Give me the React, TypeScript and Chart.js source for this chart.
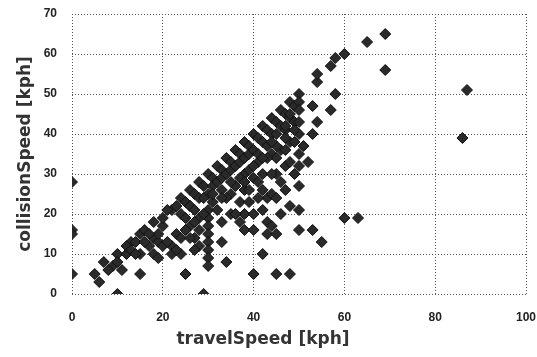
import React, { useEffect, useRef } from "react";
import { Chart, registerables } from "chart.js";

Chart.register(...registerables);

// travelSpeed [kph]
const travelSpeed: number[] = [
  0, 0, 0, 0,
  5, 6, 7, 9, 10, 10, 11, 12, 13, 15, 15, 15,
  17, 18, 18, 19, 19, 19, 20, 20, 22, 22, 23, 24, 24, 25, 26, 22,
  12, 14, 16, 17, 18, 20, 21, 23, 24, 25, 26, 27, 28, 29, 30, 31, 32, 33, 34, 35, 36, 37, 38, 39, 40, 41, 42, 43, 44, 45, 46, 47, 48, 49, 50, 50,
  24, 26, 27, 28, 30, 31, 32, 33, 34, 35, 36, 37, 38, 39, 40, 42, 43, 44, 46, 47, 48, 49, 50,
  54, 54, 57, 58, 60, 65, 69, 69, 87, 86, 58, 57, 53, 54, 53, 50, 50, 45, 48, 47,
  26, 27, 28, 28, 29, 30, 30, 30, 30, 30, 30, 30, 30, 31, 33, 33, 34, 35, 35, 37, 38, 38, 38, 40, 40, 40, 40,
  41, 42, 42, 43, 43, 43, 44, 44, 44, 45, 45, 45, 45, 46, 46, 47, 47, 48, 48, 48, 49, 50, 50, 50, 50, 51, 52, 53, 55, 60, 63,
  36, 38, 39, 41, 42, 42, 44, 45, 46, 47, 48, 49, 34, 32, 33, 36, 37, 39, 41,
  21, 23, 25, 26, 27, 28, 29, 25, 27,
  29, 31, 33, 35, 37, 39, 41, 43, 45, 47, 49, 50, 44, 42, 40, 38, 8, 10, 13, 14, 16,
];

// collisionSpeed [kph]
const collisionSpeed: number[] = [
  28, 16, 15, 5,
  5, 3, 8, 7, 0, 10, 6, 10, 13, 15, 10, 5,
  12, 14, 10, 9, 13, 15, 17, 12, 12, 10, 15, 10, 14, 5, 22, 21,
  12, 13, 16, 15, 18, 19, 21, 22, 24, 23, 26, 25, 28, 27, 30, 29, 32, 31, 34, 33, 36, 35, 38, 37, 40, 39, 42, 41, 44, 43, 46, 45, 48, 47, 50, 48,
  20, 22, 21, 24, 25, 27, 28, 29, 30, 31, 32, 33, 34, 35, 36, 38, 37, 40, 42, 41, 44, 43, 46,
  53, 55, 57, 59, 60, 63, 65, 56, 51, 39, 50, 46, 47, 43, 40, 35, 32, 40, 45, 42,
  17, 14, 19, 12, 0, 21, 19, 17, 15, 13, 11, 9, 7, 23, 18, 13, 8, 20, 25, 23, 16, 26, 20, 29, 16, 20, 5,
  33, 10, 26, 15, 18, 24, 25, 17, 35, 24, 15, 5, 30, 28, 36, 26, 32, 5, 38, 22, 30, 27, 21, 16, 40, 37, 33, 16, 13, 19, 19,
  27, 30, 23, 28, 30, 21, 30, 34, 20, 36, 33, 38, 24, 21, 26, 20, 18, 26, 24,
  13, 11, 16, 14, 18, 16, 20, 19, 11,
  24, 25, 24, 28, 29, 31, 35, 34, 37, 39, 41, 43, 38, 34, 32, 28, 6, 8, 11, 10, 13,
];

const xTicks = [0, 20, 40, 60, 80, 100];
const yTicks = [0, 10, 20, 30, 40, 50, 60, 70];
const xTitle = "travelSpeed [kph]";
const yTitle = "collisionSpeed [kph]";

export default function App() {
  const ref = useRef<HTMLCanvasElement | null>(null);

  useEffect(() => {
    document.body.style.margin = "0";
    const canvas = ref.current;
    if (!canvas) return;
    const points = travelSpeed.map((x, i) => ({ x, y: collisionSpeed[i] }));
    const tickFont = { family: "'Liberation Sans', Arial, sans-serif", size: 12, weight: "bold" as const };
    const titleFont = { family: "'DejaVu Sans', sans-serif", size: 17, weight: "bold" as const };
    const chart = new Chart(canvas, {
      type: "scatter",
      data: {
        datasets: [
          {
            label: "collisionSpeed",
            data: points,
            pointStyle: "rectRot",
            pointRadius: 5.5,
            pointBorderWidth: 1,
            backgroundColor: "#2a2a2a",
            borderColor: "#111111",
          },
        ],
      },
      options: {
        animation: false,
        responsive: false,
        layout: { padding: { top: 14, right: 11, left: 0, bottom: 0 } },
        plugins: {
          legend: { display: false },
          tooltip: { enabled: false },
          title: {
            display: true,
            position: "bottom",
            text: xTitle,
            color: "#333333",
            font: titleFont,
            padding: { top: 5, bottom: 7 },
          },
        },
        scales: {
          x: {
            type: "linear",
            min: xTicks[0],
            max: xTicks[xTicks.length - 1],
            afterBuildTicks: (s: any) => {
              s.ticks = xTicks.map((v) => ({ value: v }));
            },
            afterFit: (s: any) => {
              s.height = 30.6;
              s.paddingLeft = 0;
              s.paddingRight = 0;
            },
            ticks: { color: "#222222", font: tickFont, padding: 16, maxRotation: 0 },
            grid: { color: "#555555", lineWidth: 1, drawTicks: false },
            border: { display: false, dash: [1, 2] },
          },
          y: {
            type: "linear",
            min: yTicks[0],
            max: yTicks[yTicks.length - 1],
            afterBuildTicks: (s: any) => {
              s.ticks = yTicks.map((v) => ({ value: v }));
            },
            afterFit: (s: any) => {
              s.width = 72;
              s.paddingTop = 0;
              s.paddingBottom = 0;
            },
            ticks: { color: "#222222", font: tickFont, padding: 15 },
            grid: { color: "#555555", lineWidth: 1, drawTicks: false },
            border: { display: false, dash: [1, 2] },
            title: {
              display: true,
              text: yTitle,
              color: "#333333",
              font: titleFont,
              padding: { top: 15, bottom: 0 },
            },
          },
        },
      },
    });
    return () => chart.destroy();
  }, []);

  return (
    <div style={{ width: 537, height: 357 }}>
      <canvas ref={ref} width={537} height={357} style={{ display: "block" }} />
    </div>
  );
}
